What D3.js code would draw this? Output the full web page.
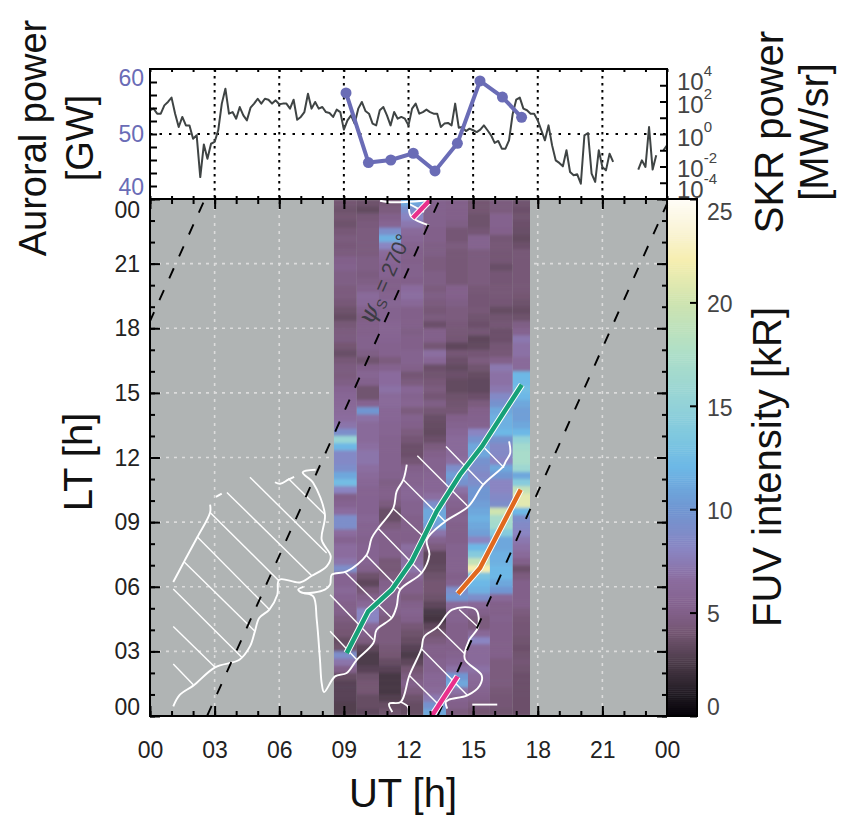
<!DOCTYPE html>
<html>
<head>
<meta charset="utf-8">
<script src="https://d3js.org/d3.v7.min.js"></script>
<style>
    html, body { margin: 0; padding: 0; background: #fff; }
    svg { display: block; }
    text { font-family: "Liberation Sans", Arial, sans-serif; }
    .axis path { display: none; }
    .axis line { stroke: #000; stroke-width: 2; }
    .axis text { font-family: "Liberation Sans", Arial, sans-serif; }
</style>
</head>
<body>
<div id="chart"></div>
<script>
// UT edges of the FUV exposures
const fuvEdges = [8.54, 9.6, 10.63, 11.65, 12.69, 13.74, 14.76, 15.78, 16.84, 17.64];

// FUV intensity in kR per exposure, rows run from LT 24 down to LT 0
const fuvCol0 = [4,3.8,4,3.8,4.2,4.5,4.3,4.5,5,5.2,4.8,4.8,4.5,4.5,4.2,3.8,3.5,4.2,4.5,4.6,4,3.6,4.2,4.6,
    4.5,4.8,5.5,5.8,6,6.2,6.5,7,9,15.5,12,8.5,8.5,9,11,12.5,8,5,5.5,6.5,9,9,6.5,5.5,
    6.5,6.5,7,9,5.5,5.5,6,5.5,5,5,4.5,4.2,4,3.5,3.8,9,7,5,3.5,3,3,3,2.8,2.8];
const fuvCol1 = [3.8,3.4,4.2,4.4,4.5,4.5,4.5,4.5,4.8,4.8,4.6,4.8,5.2,6.2,6,5.2,4.8,5,5,5.2,5.2,4.8,3.9,5,
    5.6,5.2,3.9,3.9,5.5,10,6.8,6.2,6.2,6.2,6.6,7,7,6.6,6.2,5.8,5.5,5.5,5.5,5.5,5.8,5.5,5.5,5.2,
    5.5,5.5,5.5,5,3.8,3.2,4.2,5,6,8,8,6,5,4.5,3.2,2.6,2.6,3,3.8,4,4,3.5,3.5,3.2];
const fuvCol2 = [4.2,4.5,5,5.6,9,11.5,8,6.2,5.8,5.5,5.5,5,5,5.4,5.7,5.4,5.4,5.6,5.6,5.5,5.3,5.3,4.5,5.3,
    6.4,6.4,6.8,6.2,6.2,5.8,5.8,5.6,5.6,5.4,5.4,5.4,5.4,5.4,5.2,4.8,5,5,4.5,3.6,3.6,4.5,5,5,
    5,5,4.2,4.2,4.5,5,5.4,5.4,5.2,5,4.5,4.5,4.5,4.5,4.2,4,3.5,3,2.4,2.4,2.4,2.8,3.5,3.8];
const fuvCol3 = [11,9,8,7.2,6.2,5.8,5.4,5,5,5.2,5.2,5,6.4,6.6,6,5,5,5,4.8,5,5,5.4,5.4,5,
    4.1,4.5,5.8,5.4,5.6,4.5,5.2,5,4.5,4.1,3.7,3.7,4.1,5,5.4,5.4,5.8,5.8,5.4,5.4,5,5,5,5,
    6.6,6.2,6.6,7,6,5,5,4.5,5,5.4,5,4.2,3.8,3.5,3,2.6,3.2,4,4.5,5,4.5,3.8,3.5,3.5];
const fuvCol4 = [5.2,5.2,5.2,5.2,5,5,4.8,4.8,4.5,4.5,4.8,4.8,4.5,4.8,4.5,4.2,4.5,3.7,5,5,4.1,6.6,5.8,3.7,
    3.9,4.2,4.5,4.1,4.8,4.1,3.6,3.5,3.4,3.7,4.5,5,5.4,5.4,5.6,5.8,5.8,6.6,9,11,11,10.5,7,5.4,
    4.5,3.2,3.2,3.4,3.8,4,4,3.8,3.2,2.5,2.3,3.2,4,4.5,5,5,5.4,5.4,5.8,5.8,6.2,7.2,9.5,11];
const fuvCol5 = [5,5,5,4.8,4.1,4.1,4.5,4.2,4.2,4.2,4.2,4.2,5.1,5.1,4.8,4.5,4.5,4.3,4.2,4.1,3.2,4.1,3.7,3.4,
    3.7,3.4,3.4,3.8,3.9,4.1,5,5.4,5.8,6.2,6.2,6.2,6.6,9,10.5,9.5,6.8,5.8,5.4,5,5.4,5,5,5,
    5.4,5.4,5.4,5.4,5,5.4,9,10,6.2,5.4,5.4,5,5,5,5,5.4,5.8,6.8,10,11,6.8,5.4,5,4.5];
const fuvCol6 = [4,4,3.8,3.8,4.1,5.4,5.4,4.5,4.5,4.5,4.5,4.5,4.2,4.1,4.1,4.2,3.9,3.7,4.1,3.2,3.4,4.1,4.5,3.9,
    3.5,3.3,3.3,3.7,4.5,5,5.2,5.4,8,9.5,11,11,9.5,9,8.5,9,10,10,10.5,11,11.5,11,10.5,8,
    12,14,19,22,13,12,11.5,9,6,5,4.5,4.5,6,8,6.2,6.2,6.2,6.8,6.2,5.8,5.4,5,4.5,4];
const fuvCol7 = [4.5,4.5,5.3,5.3,5.1,4.1,4.2,4.1,4.1,3.6,4.1,4.1,4.2,4.2,4.1,3.5,3.9,4.1,3.7,3.7,4.1,4.2,5,7.2,
    6.8,6.8,7.2,8.5,9.5,11,11.5,11.5,12,9.5,8.5,8.5,8,11,10,8,8,8.5,9,20,17,16.5,14,11,
    11,11.5,11.5,12,12,11,10,6,5,5,5.2,5,5,5,5,5,4.5,4.5,4.5,4.5,4.2,4.1,4.1,3.9];
const fuvCol8 = [3.9,3.7,3.9,3.7,3.6,3.4,3.7,4.2,4.2,4.2,4.2,4.2,4.2,4,3.8,3.5,3.8,4.8,5.4,7.2,6.8,6.8,6.2,6.2,
    12,12,12.5,12,11,10.5,10.5,11,12,15,16.5,17,17,16,11,14,19,21,21,12,9,8.5,8,7.2,
    6.8,6.2,5,3.7,4.5,5,5,5,5,4.5,4.2,4.1,4.1,3.9,3.7,3.9,4.1,3.9,3.7,3.7,3.7,3.7,3.7,3.7];
const fuvColumns = [fuvCol0, fuvCol1, fuvCol2, fuvCol3, fuvCol4, fuvCol5, fuvCol6, fuvCol7, fuvCol8];

// colorbar stops
const fuvStops = [0, 1, 2.5, 4, 5, 6.5, 8, 10, 12, 13.5, 15, 17.5, 20, 22, 23.5, 25];
const fuvColors = ["#050208", "#201a22", "#4a3a48", "#745672", "#82608a", "#8b6c9e", "#8a85c2", "#6f96d2",
    "#6db8e6", "#7fc8df", "#93d2d8", "#aedfc8", "#cfe4b0", "#f6eeb0", "#faf4d8", "#fffdf8"];

// SKR power, log10 MW/sr, one value every 10 minutes from 00 UT (null = data gap)
const skrLog = [1.46,1.56,1.25,1.25,1.76,1.97,2.24,1.25,0.43,1.05,0.53,0.53,-0.29,-0.08,-2.65,-0.64,-1.52,-0.6,-0.49,0.23,
    1.87,2.79,1.25,1.35,0.94,1.66,1.15,0.84,1.62,1.87,2.17,1.87,2.17,2.11,1.87,2.07,1.83,1.87,1.87,1.56,
    2.11,0.88,1.05,1.35,2.48,1.56,1.97,1.56,1.66,1.35,1.29,1.05,1.5,1.35,0.27,0.84,1.15,0.64,1.56,1.97,
    1.42,1.25,0.64,0.53,1.46,1.66,1.15,0.53,1.35,0.94,1.05,0.94,0.53,1.56,1.87,1.25,1.35,1.5,1.35,1.25,
    1.25,0.43,0.64,0.68,0.53,1.87,0.39,0.43,0.18,0.33,0.23,0.12,0.27,0.53,0.23,-0.08,-0.55,-0.43,-0.9,-0.9,
    -0.39,1.21,2.11,2.24,1.56,1.46,1.25,1.25,0.84,0.23,-0.39,0.53,-0.7,-1.62,-1.78,-1.99,-1,-2.34,-2.54,-2.48,
    -3.06,-0.08,0.06,-2.44,-2.95,-1,-2.03,-2.24,-1.21,-1.72,null,null,null,null,null,null,-2.19,-1.62,-2.03,0.43,
    -2.19,-1.31,null,-1,-0.7];
const skrStep = 1 / 6;

// auroral power
const auroralUT = [9.1, 10.14, 11.18, 12.22, 13.23, 14.27, 15.32, 16.36, 17.25];
const auroralPower = [57.9, 44.5, 45, 46.3, 42.9, 48.2, 60.2, 57.1, 53.2];

// arcs, [UT, LT]
const greenArc = [[9.13,2.92],[10.13,4.86],[11.22,5.86],[12.15,7.18],[12.77,8.42],[13.31,9.5],[14.39,11.2],[15.4,12.5],[17.26,15.38]];
const orangeArc = [[14.29,5.68],[15.32,6.87],[17.21,10.51]];
const pinkArcs = [[[13.08,0],[14.28,1.84]], [[12.2,23.12],[12.97,23.92]]];

// phase lines, psi_s = 270 deg
const psiLines = [[[-8.25,0],[2.55,24]], [[2.65,0],[13.46,24]], [[13.35,0],[24.1,24]]];

// outlines of the hatched regions, [UT, LT]
const regionOutlines = [
    [[1.08,0.45],[1.39,0.99],[2.01,1.41],[3.02,2.26],[4.15,2.61],[4.64,3.23],[4.87,3.93],[5.07,4.55],[5.54,4.94],[5.91,5.63],[6,6.33],[6.96,6.2],[7.51,6.51],[8.2,6.95],[8.39,7.41],[7.97,8.18],[8.12,9.35],[7.58,10.82],[7.09,11.31],[7.69,11.43]],
    [[5.8,10.85],[6.04,10.78],[6.42,10.97],[6.69,11.1]],
    [[3.06,10.17],[3.33,10.32]],
    [[1.08,6.22],[1.59,7.18],[2.2,8.31],[2.79,9.45],[2.79,9.81]],
    [[11.92,11.67],[11.76,10.97],[11.45,10.43],[11.3,9.66],[10.6,8.73],[10.29,8.26],[10.06,7.49],[9.13,6.71],[8.44,6.56],[8.36,6.1],[8.12,5.87],[7.12,5.71],[6.88,5.86],[7.12,5.99]],
    [[7.12,5.71],[7.58,5.55],[7.74,4.47],[7.89,2.61],[7.97,1.53],[8.08,1.11],[8.59,1.84],[9.13,2],[9.6,2.61],[10.37,3.39],[10.52,4],[11.22,4.55],[11.45,5.09],[11.61,5.86],[12.61,6.64],[12.97,7.49],[12.85,8.18],[13.7,9.03],[14.78,9.73],[15.47,10.74],[16.4,11.59],[16.51,11.81],[16.72,12.2],[16.67,12.75]],
    [[13.8,0.34],[13.73,0.65],[13.88,0.76],[14.73,0.96],[15.31,1.42],[15.4,1.88],[14.61,2.66],[14.81,3.51],[15.23,4.13],[15.12,4.94],[14.03,4.94],[13.34,4.13],[12.72,3.67],[12.6,3.12],[12.04,1.88],[11.64,0.65],[11.1,0.57],[11.25,0.19]],
    [[11.64,0.65],[11.98,0.42],[11.98,0.02]],
    [[14.96,0.53],[16.12,0.53]],
    [[10.68,23.92],[11.02,23.86],[11.87,23.86],[12.87,23.94]],
    [[12.02,23.55],[12.13,23.17],[12.95,22.78]],
    [[12.02,23.78],[12.72,23.4]]
];

// hatch strokes, [UT, LT, UT, LT]
const regionHatches = [
    [1.08,5.9,4.26,2.73],[1.59,7.15,4.87,3.93],[2.2,8.31,5.54,4.94],[2.79,9.45,5.96,6.3],
    [3.57,10.38,7.51,6.51],[4.64,11.08,8.2,7.57],[6.42,11.02,8.12,9.35],[1.08,4.16,3.02,2.26],[1.08,2.41,2.01,1.45],
    [8.36,5.63,10.37,3.54],[8.36,3.93,9.6,2.61],[9.05,6.68,11.22,4.55],[10.03,7.47,11.61,5.86],
    [10.6,8.7,12.61,6.64],[11.3,9.62,12.85,8.18],[11.76,10.97,13.7,9.03],[12.41,12.08,14.73,9.76],[13.74,12.51,15.47,10.74],
    [15.54,12.43,16.43,11.53],[14.35,4.94,15.23,4.13],[13.34,4.13,14.61,2.89],[12.6,3.12,14.73,0.96],[12.04,1.88,13.36,0.57]
];

const hourTicks = d3.range(0, 25, 3);
const hourMinor = d3.range(0, 25, 1);
const powerTicks = [40, 50, 60];
const powerMinor = [40, 42.5, 45, 47.5, 50, 52.5, 55, 57.5, 60];
const skrExponents = [-3, -2, -1, 0, 1, 2, 3];
const skrLabels = [4, 2, 0, -2, -4];
const fuvTicks = [0, 5, 10, 15, 20, 25];

const margin = { left: 150, topPanel: 69, top: 199 };
const width = 517, height = 517, topHeight = 130;

const svg = d3.select("#chart").append("svg")
    .attr("width", 843)
    .attr("height", 815);

const pad = d => String(d % 24).padStart(2, "0");

// Scales
const x = d3.scaleLinear().domain([0, 24]).range([0, width]);
const y = d3.scaleLinear().domain([0, 24]).range([height, 0]);
const powerY = d3.scaleLinear().domain([37.5, 62.5]).range([topHeight, 0]);
const skrY = d3.scaleLog().domain([1e-4, 1e4]).range([topHeight, 0]);
const fuvColor = d3.scaleLinear().domain(fuvStops).range(fuvColors).interpolate(d3.interpolateRgb);
const fuvY = d3.scaleLinear().domain([0, 25]).range([height, 0]);
const rowBand = d3.scaleBand().domain(d3.range(fuvCol0.length)).range([0, height]);

const defs = svg.append("defs");
defs.append("clipPath").attr("id", "mainClip").append("rect").attr("width", width).attr("height", height);
defs.append("clipPath").attr("id", "topClip").append("rect").attr("width", width).attr("height", topHeight);
defs.append("filter").attr("id", "rowBlur")
    .attr("filterUnits", "userSpaceOnUse")
    .attr("x", 0).attr("y", -10).attr("width", width).attr("height", height + 20)
    .append("feGaussianBlur").attr("stdDeviation", "0 1.4");

//Top panel
const topG = svg.append("g").attr("transform", `translate(${margin.left},${margin.topPanel})`);

topG.selectAll(".topGridV")
    .data(hourTicks.slice(1, -1))
    .join("line")
    .attr("x1", d => x(d)).attr("x2", d => x(d))
    .attr("y1", 0).attr("y2", topHeight)
    .attr("stroke", "#000").attr("stroke-width", 2).attr("stroke-dasharray", "2.5 4.5");

topG.append("line")
    .attr("x1", 0).attr("x2", width)
    .attr("y1", powerY(50)).attr("y2", powerY(50))
    .attr("stroke", "#000").attr("stroke-width", 2).attr("stroke-dasharray", "2.5 7");

const skrLine = d3.line()
    .defined(d => d !== null)
    .x((d, i) => x(i * skrStep))
    .y(d => skrY(Math.pow(10, d)));

topG.append("path")
    .datum(skrLog)
    .attr("clip-path", "url(#topClip)")
    .attr("d", skrLine)
    .attr("fill", "none")
    .attr("stroke", "#3f4444")
    .attr("stroke-width", 2)
    .attr("stroke-linejoin", "round");

const auroralLine = d3.line()
    .x((d, i) => x(auroralUT[i]))
    .y(d => powerY(d));

topG.append("path")
    .datum(auroralPower)
    .attr("d", auroralLine)
    .attr("fill", "none")
    .attr("stroke", "#6a6cb6")
    .attr("stroke-width", 4);

topG.selectAll(".auroralDot")
    .data(auroralPower)
    .join("circle")
    .attr("cx", (d, i) => x(auroralUT[i]))
    .attr("cy", d => powerY(d))
    .attr("r", 5.5)
    .attr("fill", "#6a6cb6");

//Top panel axes
topG.append("g").attr("class", "axis")
    .call(d3.axisTop(x).tickValues(hourMinor).tickSize(-3).tickFormat(""));
topG.append("g").attr("class", "axis").attr("transform", `translate(0,${topHeight})`)
    .call(d3.axisBottom(x).tickValues(hourMinor).tickSize(-3).tickFormat(""));
topG.append("g").attr("class", "axis")
    .call(d3.axisLeft(powerY).tickValues(powerMinor).tickSize(-7).tickFormat(""));
topG.append("g").attr("class", "axis").attr("transform", `translate(${width},0)`)
    .call(d3.axisRight(skrY).tickValues(skrExponents.map(d => Math.pow(10, d))).tickSize(-7).tickFormat(""));

const powerLabels = topG.append("g").attr("class", "axis")
    .call(d3.axisLeft(powerY).tickValues(powerTicks).tickSize(0).tickPadding(6).tickFormat(d => d));
powerLabels.selectAll("text")
    .attr("font-size", 23)
    .attr("fill", "#6a6cb6")
    .attr("dy", d => d === 60 ? "0.15em" : (d === 40 ? "0.38em" : "0.32em"));
powerLabels.selectAll("line").remove();

// SKR labels sit apart from their ticks at the ends so they don't collide
const skrLabelY = { "4": 21, "2": 44, "0": 77, "-2": 108, "-4": 129 };
const skrG = topG.selectAll(".skrLabel")
    .data(skrLabels)
    .join("text")
    .attr("class", "skrLabel")
    .attr("x", width + 10)
    .attr("y", d => skrLabelY[d])
    .attr("fill", "#444")
    .attr("font-size", 24);
skrG.append("tspan").text("10");
skrG.append("tspan").attr("dy", -14).attr("font-size", 15).text(d => d < 0 ? "-" + Math.abs(d) : d);

//Main panel
const mainG = svg.append("g").attr("transform", `translate(${margin.left},${margin.top})`);

mainG.append("rect")
    .attr("width", width).attr("height", height)
    .attr("fill", "#b0b4b4");

mainG.selectAll(".gridV")
    .data(hourTicks.slice(1, -1))
    .join("line")
    .attr("x1", d => x(d)).attr("x2", d => x(d))
    .attr("y1", 0).attr("y2", height)
    .attr("stroke", "#dcdcdc").attr("stroke-width", 1.6).attr("stroke-dasharray", "3 5");
mainG.selectAll(".gridH")
    .data(hourTicks.slice(1, -1))
    .join("line")
    .attr("x1", 0).attr("x2", width)
    .attr("y1", d => y(d)).attr("y2", d => y(d))
    .attr("stroke", "#dcdcdc").attr("stroke-width", 1.6).attr("stroke-dasharray", "3 5");

//Draw the FUV exposures
const heat = mainG.append("g").attr("clip-path", "url(#mainClip)")
    .append("g").attr("filter", "url(#rowBlur)");

heat.selectAll(".exposure")
    .data(fuvColumns)
    .join("g")
    .each(function(col, c) {
        d3.select(this).selectAll("rect")
            .data(col)
            .join("rect")
            .attr("x", x(fuvEdges[c]))
            .attr("width", x(fuvEdges[c + 1]) - x(fuvEdges[c]))
            .attr("y", (d, i) => rowBand(i))
            .attr("height", rowBand.bandwidth() + 0.5)
            .attr("fill", d => fuvColor(d));
    });

const over = mainG.append("g").attr("clip-path", "url(#mainClip)");

const uvLine = d3.line().x(d => x(d[0])).y(d => y(d[1]));

//Hatched regions
over.selectAll(".hatch")
    .data(regionHatches)
    .join("line")
    .attr("x1", d => x(d[0])).attr("y1", d => y(d[1]))
    .attr("x2", d => x(d[2])).attr("y2", d => y(d[3]))
    .attr("stroke", "#fff").attr("stroke-width", 1.4);

over.selectAll(".outline")
    .data(regionOutlines)
    .join("path")
    .attr("d", d3.line().x(d => x(d[0])).y(d => y(d[1])).curve(d3.curveCatmullRom))
    .attr("fill", "none")
    .attr("stroke", "#fff")
    .attr("stroke-width", 1.9);

//Phase lines
over.selectAll(".psi")
    .data(psiLines)
    .join("path")
    .attr("d", uvLine)
    .attr("stroke", "#000")
    .attr("stroke-width", 1.9)
    .attr("stroke-dasharray", "11 13");

//Arcs, white casing underneath
const arcs = [
    { points: greenArc, color: "#17a078" },
    { points: orangeArc, color: "#e0691e" },
    { points: pinkArcs[0], color: "#e8308c" },
    { points: pinkArcs[1], color: "#e8308c" }
];
over.selectAll(".arcCase")
    .data(arcs)
    .join("path")
    .attr("d", d => uvLine(d.points))
    .attr("fill", "none").attr("stroke", "#fff").attr("stroke-width", 6.5);
over.selectAll(".arc")
    .data(arcs)
    .join("path")
    .attr("d", d => uvLine(d.points))
    .attr("fill", "none").attr("stroke", d => d.color).attr("stroke-width", 4.5);

//Phase label
const psiText = mainG.append("text")
    .attr("transform", `translate(${x(10.3)},${y(18.1)}) rotate(-66)`)
    .attr("fill", "#3c3c44")
    .attr("font-size", 21);
psiText.append("tspan").attr("font-family", "DejaVu Serif").attr("font-style", "italic").attr("font-size", 25).text("ψ");
psiText.append("tspan").attr("dy", 5).attr("font-size", 14).text("S");
psiText.append("tspan").attr("dy", -5).text(" = 270°");

//Main axes
mainG.append("g").attr("class", "axis").attr("transform", `translate(0,${height})`)
    .call(d3.axisBottom(x).tickValues(hourMinor).tickSize(-5).tickFormat(""));
mainG.append("g").attr("class", "axis")
    .call(d3.axisTop(x).tickValues(hourMinor).tickSize(-5).tickFormat(""));
mainG.append("g").attr("class", "axis")
    .call(d3.axisLeft(y).tickValues(hourMinor).tickSize(-5).tickFormat(""));
mainG.append("g").attr("class", "axis").attr("transform", `translate(${width},0)`)
    .call(d3.axisRight(y).tickValues(hourMinor).tickSize(-5).tickFormat(""));

const xLabels = mainG.append("g").attr("class", "axis").attr("transform", `translate(0,${height})`)
    .call(d3.axisBottom(x).tickValues(hourTicks).tickSize(-10).tickPadding(42).tickFormat(pad));
xLabels.selectAll("text").attr("font-size", 23).attr("fill", "#222").attr("dy", 0);
mainG.append("g").attr("class", "axis")
    .call(d3.axisTop(x).tickValues(hourTicks).tickSize(-10).tickFormat(""));

const yLabels = mainG.append("g").attr("class", "axis")
    .call(d3.axisLeft(y).tickValues(hourTicks).tickSize(-10).tickPadding(10).tickFormat(pad));
yLabels.selectAll("text")
    .attr("font-size", 23).attr("fill", "#222")
    .attr("dy", d => d === 0 ? "-0.05em" : (d === 24 ? "0.82em" : "0.33em"));
mainG.append("g").attr("class", "axis").attr("transform", `translate(${width},0)`)
    .call(d3.axisRight(y).tickValues(hourTicks).tickSize(-10).tickFormat(""));

//Frames
svg.append("rect").attr("x", margin.left).attr("y", margin.topPanel)
    .attr("width", width).attr("height", topHeight)
    .attr("fill", "none").attr("stroke", "#000").attr("stroke-width", 2);
svg.append("rect").attr("x", margin.left).attr("y", margin.top)
    .attr("width", width).attr("height", height)
    .attr("fill", "none").attr("stroke", "#000").attr("stroke-width", 2);

//Colorbar
const barG = svg.append("g").attr("transform", `translate(${margin.left + width},${margin.top})`);
const barWidth = 30;
barG.selectAll(".barCell")
    .data(d3.range(0, 25, 0.1))
    .join("rect")
    .attr("width", barWidth)
    .attr("y", d => fuvY(d + 0.1))
    .attr("height", fuvY(0) - fuvY(0.1) + 0.5)
    .attr("fill", d => fuvColor(d));

const barAxis = barG.append("g").attr("class", "axis").attr("transform", `translate(${barWidth},0)`)
    .call(d3.axisRight(fuvY).tickValues(fuvTicks).tickSize(-7).tickPadding(10));
barAxis.selectAll("text")
    .attr("font-size", 23).attr("fill", "#444")
    .attr("dy", d => d === 0 ? "-0.05em" : (d === 25 ? "0.9em" : "0.4em"));

barG.append("rect").attr("width", barWidth).attr("height", height)
    .attr("fill", "none").attr("stroke", "#000").attr("stroke-width", 2);

//Titles
function addTitle(label, cx, cy, size, rotate) {
    svg.append("text")
        .attr("transform", `translate(${cx},${cy}) rotate(${rotate})`)
        .attr("text-anchor", "middle")
        .attr("font-size", size)
        .attr("fill", "#111")
        .text(label);
}
addTitle("UT [h]", 403, 807, 40, 0);
addTitle("LT [h]", 92, 462, 40, -90);
addTitle("Auroral power", 46, 138, 38, -90);
addTitle("[GW]", 93, 138, 38, -90);
addTitle("SKR power", 783, 132, 40, -90);
addTitle("[MW/sr]", 828, 132, 40, -90);
addTitle("FUV intensity [kR]", 781, 467, 40, -90);
</script>
</body>
</html>
